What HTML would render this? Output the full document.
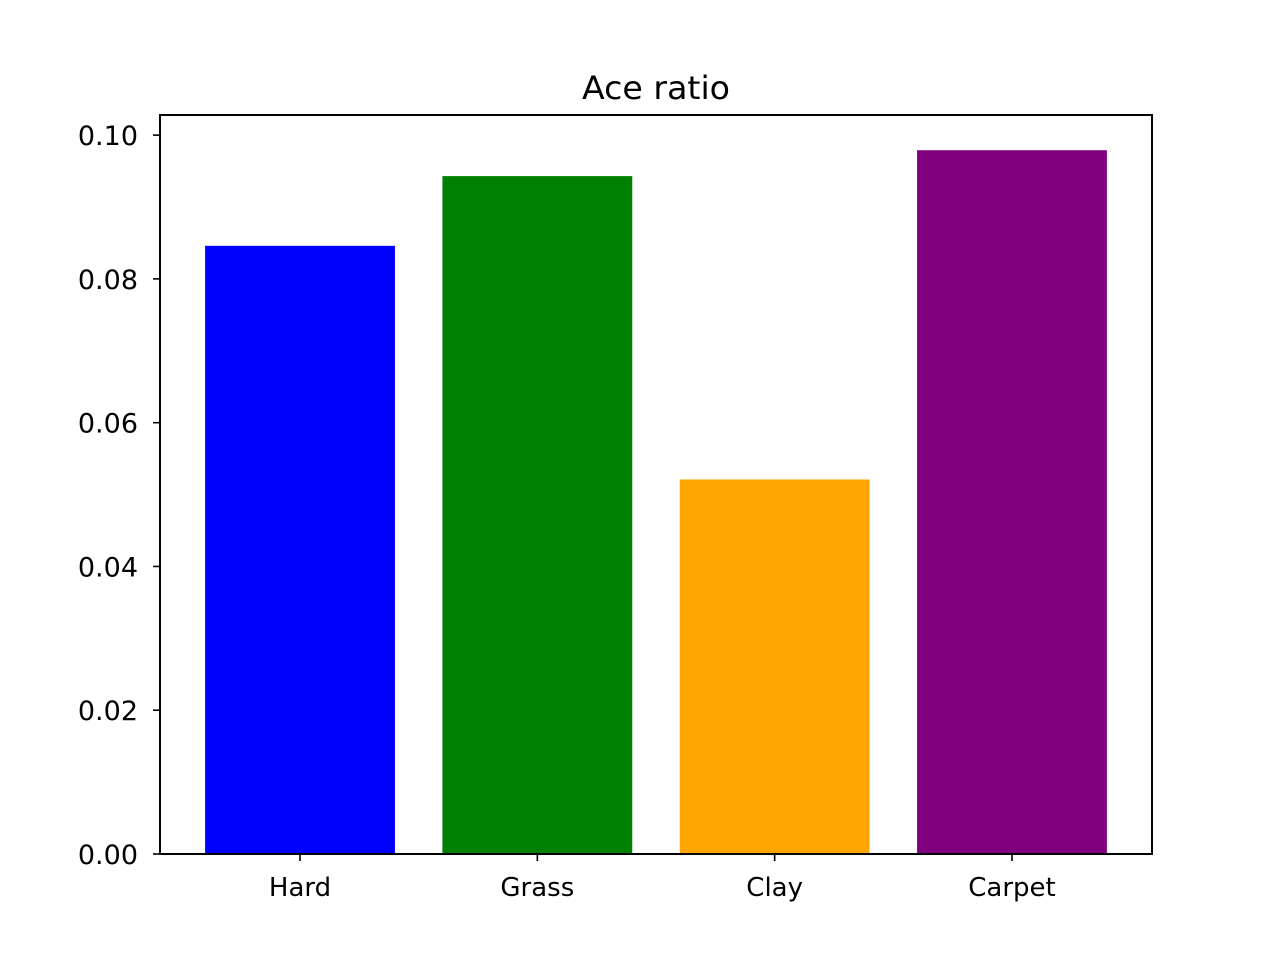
<!DOCTYPE html>
<html><head><meta charset="utf-8"><style>body{margin:0;background:#fff}svg{display:block}text{font-family:"DejaVu Sans","Liberation Sans",sans-serif;fill:#000}</style></head>
<body>
<svg id="chart" width="1280" height="960">
<text x="656" y="99" font-size="32" text-anchor="middle" textLength="148" lengthAdjust="spacingAndGlyphs">Ace ratio</text>
<g id="bars"></g><g id="axes"></g>
<rect x="160" y="115" width="992" height="739" fill="none" stroke="#000" stroke-width="2"/>
</svg>
<script>
const categories=["Hard","Grass","Clay","Carpet"];
const values=[0.0846,0.0943,0.0521,0.0979];
const colors=["#0000ff","#008000","#ffa500","#800080"];
const yTicks=[0,0.02,0.04,0.06,0.08,0.10];
const yTickLabels=["0.00","0.02","0.04","0.06","0.08","0.10"];
const L=160,R=1152,T=115,B=854,yMax=0.1028,xMin=-0.59,xMax=3.59;
const ns="http://www.w3.org/2000/svg";
const y=v=>B-(v/yMax)*(B-T);
const x=i=>L+(i-xMin)/(xMax-xMin)*(R-L);
const bw=0.8*(R-L)/(xMax-xMin);
const bars=document.getElementById('bars'),axes=document.getElementById('axes');
function mk(tag,a,p){const e=document.createElementNS(ns,tag);for(const k in a)e.setAttribute(k,a[k]);p.appendChild(e);return e;}
categories.forEach((c,i)=>{
 const r=mk('rect',{x:x(i)-bw/2,y:y(values[i]),width:bw,height:B-y(values[i]),fill:colors[i]},bars);
 
 
 const t=mk('line',{x1:x(i),x2:x(i),y1:B,y2:B+7,stroke:'#000','stroke-width':1.6},axes);
 
 
 const l=mk('text',{x:x(i),y:B+42,'font-size':26,'text-anchor':'middle'},axes);
 l.textContent=c;
 
 
});
yTicks.forEach((v,i)=>{
 const t=mk('line',{x1:L-7,x2:L,y1:y(v),y2:y(v),stroke:'#000','stroke-width':1.6},axes);
 
 
 const l=mk('text',{x:L-22,y:y(v)+10,'font-size':27,'text-anchor':'end'},axes);
 l.textContent=yTickLabels[i];
 
 
});
</script>
</body></html>
